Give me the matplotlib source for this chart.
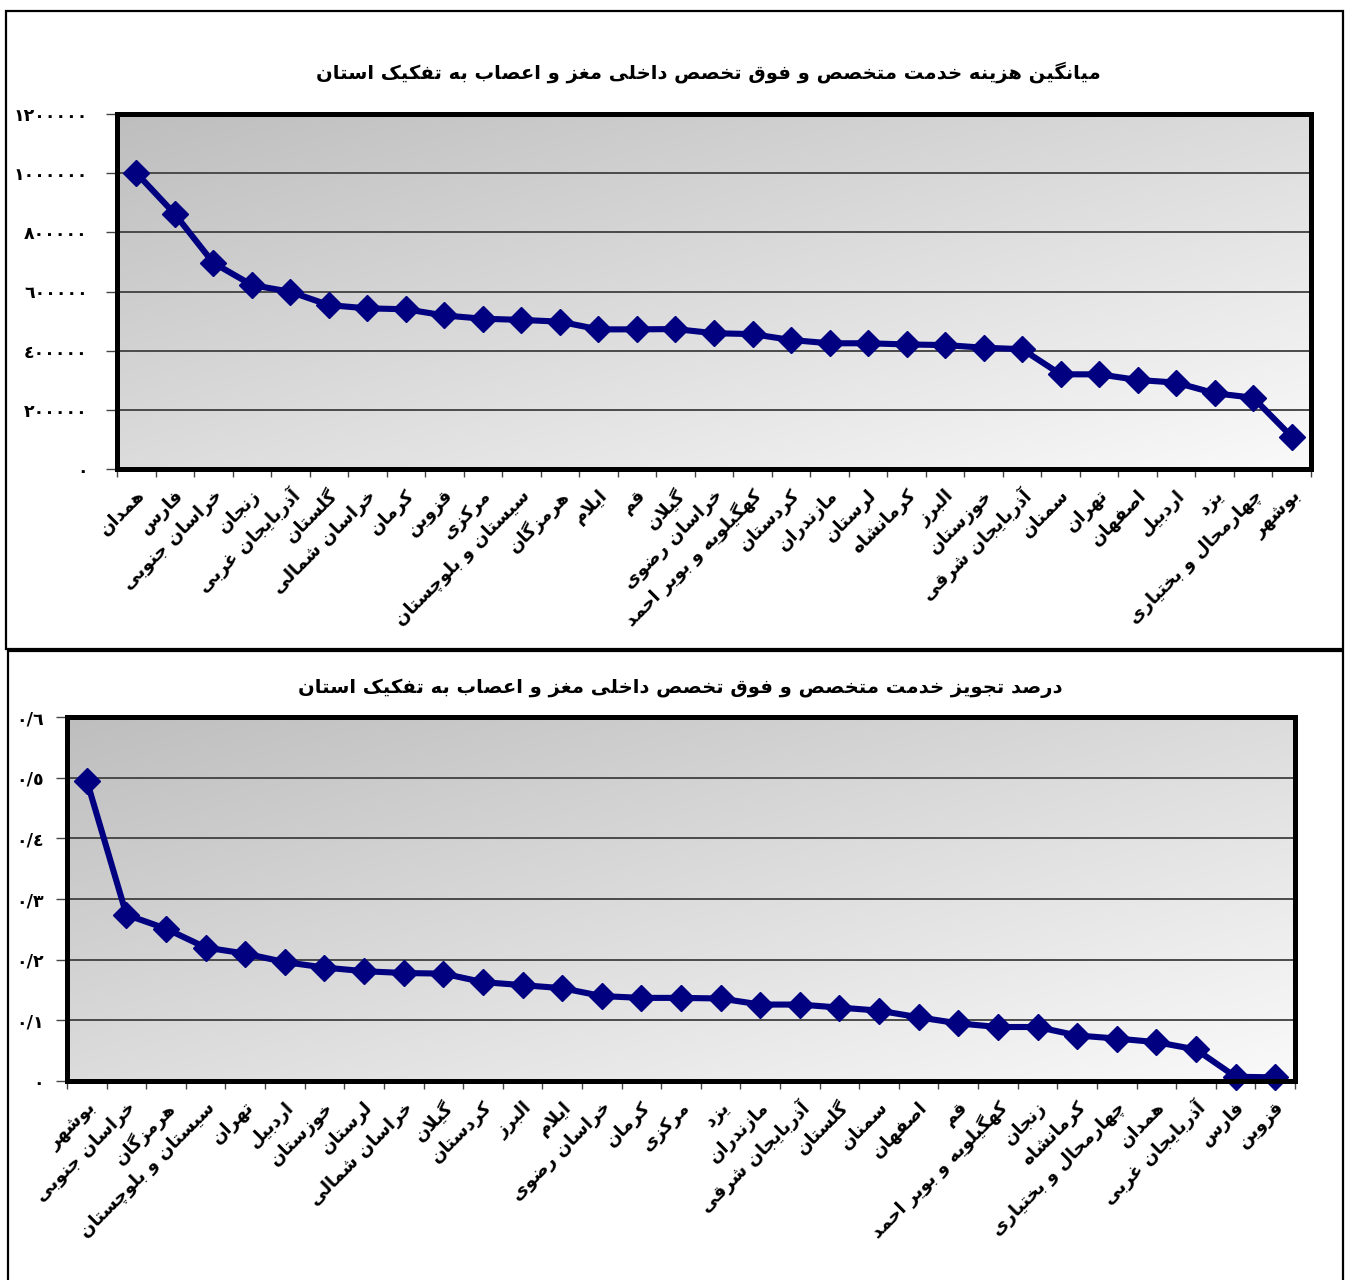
import numpy as np
import matplotlib
matplotlib.use("Agg")
import matplotlib.pyplot as plt
from matplotlib.patches import Rectangle
from matplotlib.ticker import FuncFormatter
import matplotlib.transforms as mtrans

plt.rcParams['font.family'] = ['DejaVu Sans']
plt.rcParams['font.weight'] = 'bold'

# ---------------- data ----------------
title_cost = 'میانگین هزینه خدمت متخصص و فوق تخصص داخلی مغز و اعصاب به تفکیک استان'
provinces_cost = ['همدان', 'فارس', 'خراسان جنوبی', 'زنجان', 'آذربایجان غربی', 'گلستان',
                  'خراسان شمالی', 'کرمان', 'قزوین', 'مرکزی', 'سیستان و بلوچستان', 'هرمزگان',
                  'ایلام', 'قم', 'گیلان', 'خراسان رضوی', 'کهگیلویه و بویر احمد', 'کردستان',
                  'مازندران', 'لرستان', 'کرمانشاه', 'البرز', 'خوزستان', 'آذربایجان شرقی',
                  'سمنان', 'تهران', 'اصفهان', 'اردبیل', 'یزد', 'چهارمحال و بختیاری', 'بوشهر']
cost_values = [1001000, 862000, 697000, 622000, 599000, 554000, 543000, 540000, 519000,
               508000, 504000, 498000, 472000, 472000, 473000, 459000, 456000, 436000,
               425000, 425000, 421000, 419000, 410000, 405000, 320000, 320000, 301000,
               292000, 256000, 241000, 109000]
cost_ticks = [0, 200000, 400000, 600000, 800000, 1000000, 1200000]

title_pct = 'درصد تجویز خدمت متخصص و فوق تخصص داخلی مغز و اعصاب به تفکیک استان'
provinces_pct = ['بوشهر', 'خراسان جنوبی', 'هرمزگان', 'سیستان و بلوچستان', 'تهران', 'اردبیل',
                 'خوزستان', 'لرستان', 'خراسان شمالی', 'گیلان', 'کردستان', 'البرز', 'ایلام',
                 'خراسان رضوی', 'کرمان', 'مرکزی', 'یزد', 'مازندران', 'آذربایجان شرقی',
                 'گلستان', 'سمنان', 'اصفهان', 'قم', 'کهگیلویه و بویر احمد', 'زنجان',
                 'کرمانشاه', 'چهارمحال و بختیاری', 'همدان', 'آذربایجان غربی', 'فارس', 'قزوین']
pct_values = [0.495, 0.274, 0.251, 0.220, 0.210, 0.196, 0.187, 0.181, 0.178, 0.177, 0.163,
              0.158, 0.153, 0.140, 0.137, 0.137, 0.136, 0.126, 0.126, 0.121, 0.116, 0.105,
              0.095, 0.089, 0.089, 0.075, 0.070, 0.064, 0.052, 0.007, 0.006]
pct_ticks = [0, 0.1, 0.2, 0.3, 0.4, 0.5, 0.6]

# ---------------- Persian shaping (matplotlib has no bidi/shaping) ----------------
FORMS = {
    'ا': ('\uFE8D', '\uFE8E', None, None), 'آ': ('\uFE81', '\uFE82', None, None),
    'د': ('\uFEA9', '\uFEAA', None, None), 'ذ': ('\uFEAB', '\uFEAC', None, None),
    'ر': ('\uFEAD', '\uFEAE', None, None), 'ز': ('\uFEAF', '\uFEB0', None, None),
    'ژ': ('\uFB8A', '\uFB8B', None, None), 'و': ('\uFEED', '\uFEEE', None, None),
    'ب': ('\uFE8F', '\uFE90', '\uFE91', '\uFE92'), 'پ': ('\uFB56', '\uFB57', '\uFB58', '\uFB59'),
    'ت': ('\uFE95', '\uFE96', '\uFE97', '\uFE98'), 'ث': ('\uFE99', '\uFE9A', '\uFE9B', '\uFE9C'),
    'ج': ('\uFE9D', '\uFE9E', '\uFE9F', '\uFEA0'), 'چ': ('\uFB7A', '\uFB7B', '\uFB7C', '\uFB7D'),
    'ح': ('\uFEA1', '\uFEA2', '\uFEA3', '\uFEA4'), 'خ': ('\uFEA5', '\uFEA6', '\uFEA7', '\uFEA8'),
    'س': ('\uFEB1', '\uFEB2', '\uFEB3', '\uFEB4'), 'ش': ('\uFEB5', '\uFEB6', '\uFEB7', '\uFEB8'),
    'ص': ('\uFEB9', '\uFEBA', '\uFEBB', '\uFEBC'), 'ض': ('\uFEBD', '\uFEBE', '\uFEBF', '\uFEC0'),
    'ط': ('\uFEC1', '\uFEC2', '\uFEC3', '\uFEC4'), 'ظ': ('\uFEC5', '\uFEC6', '\uFEC7', '\uFEC8'),
    'ع': ('\uFEC9', '\uFECA', '\uFECB', '\uFECC'), 'غ': ('\uFECD', '\uFECE', '\uFECF', '\uFED0'),
    'ف': ('\uFED1', '\uFED2', '\uFED3', '\uFED4'), 'ق': ('\uFED5', '\uFED6', '\uFED7', '\uFED8'),
    'ک': ('\uFB8E', '\uFB8F', '\uFB90', '\uFB91'), 'گ': ('\uFB92', '\uFB93', '\uFB94', '\uFB95'),
    'ل': ('\uFEDD', '\uFEDE', '\uFEDF', '\uFEE0'), 'م': ('\uFEE1', '\uFEE2', '\uFEE3', '\uFEE4'),
    'ن': ('\uFEE5', '\uFEE6', '\uFEE7', '\uFEE8'), 'ه': ('\uFEE9', '\uFEEA', '\uFEEB', '\uFEEC'),
    'ی': ('\uFBFC', '\uFBFD', '\uFBFE', '\uFBFF'),
}
LAMALEF = {'ا': ('\uFEFB', '\uFEFC'), 'آ': ('\uFEF5', '\uFEF6')}


def joins_forward(c):
    return c in FORMS and FORMS[c][2] is not None


def shape(text):
    out = []
    i, n = 0, len(text)
    while i < n:
        c = text[i]
        if c not in FORMS:
            out.append(c)
            i += 1
            continue
        prev = text[i - 1] if i > 0 else ''
        jp = joins_forward(prev)
        if c == 'ل' and i + 1 < n and text[i + 1] in LAMALEF:
            lig = LAMALEF[text[i + 1]]
            out.append(lig[1] if jp else lig[0])
            i += 2
            continue
        nxt = text[i + 1] if i + 1 < n else ''
        jn = joins_forward(c) and nxt in FORMS
        iso, fin, ini, med = FORMS[c]
        if jp and jn:
            g = med
        elif jp:
            g = fin
        elif jn:
            g = ini
        else:
            g = iso
        out.append(g)
        i += 1
    return ''.join(reversed(out))


DIG = str.maketrans('0123456789', '٠١٢٣٤٥٦٧٨٩')


def fmt_int(v, pos=None):
    return str(int(round(v))).translate(DIG)


def fmt_dec(v, pos=None):
    if abs(v) < 1e-9:
        return '0'.translate(DIG)
    return ('%.1f' % v).replace('.', '/').translate(DIG)


# ---------------- figure ----------------
W, H = 1345, 1280
fig = plt.figure(figsize=(W / 100, H / 100), dpi=100)


def fx(px):
    return px / W


def fy(py):
    return 1 - py / H


# outer panel frames
fig.add_artist(Rectangle((fx(6), fy(649)), fx(1343) - fx(6), fy(11) - fy(649),
                         transform=fig.transFigure, fill=False, lw=1.6, ec='black'))
fig.add_artist(Rectangle((fx(8), fy(1290)), fx(1343) - fx(8), fy(651) - fy(1290),
                         transform=fig.transFigure, fill=False, lw=1.6, ec='black',
                         clip_on=False))

# diagonal gradient (dark top-left -> light bottom-right)
gx = np.linspace(0, 1, 300)
gy = np.linspace(1, 0, 300)
GX, GY = np.meshgrid(gx, gy)
t = (GX + (1 - GY)) / 2
g = 0.745 + 0.235 * t
grad = np.dstack([g, g, g])


def draw_panel(px_box, cats, vals, ticks, fmt, title, title_xy, ypad):
    l, r, tp, b = px_box
    ax = fig.add_axes([fx(l), fy(b), fx(r) - fx(l), fy(tp) - fy(b)])
    n = len(cats)
    x = np.arange(n)
    ymax = ticks[-1]
    ax.imshow(grad, extent=(-0.5, n - 0.5, 0, ymax), aspect='auto', zorder=0,
              interpolation='bilinear')
    ax.set_xlim(-0.5, n - 0.5)
    ax.set_ylim(0, ymax)
    for v in ticks[1:-1]:
        ax.axhline(v, color='#4a4a4a', lw=1.4, zorder=1)
    ax.plot(x, vals, color='#000080', lw=4.4, marker='D', ms=13.5, zorder=3,
            clip_on=False, solid_joinstyle='round')
    for s in ax.spines.values():
        s.set_linewidth(3.6)
        s.set_color('black')
        s.set_zorder(4)
    ax.set_yticks(ticks)
    ax.yaxis.set_major_formatter(FuncFormatter(fmt))
    ax.tick_params(axis='y', length=8, width=1.0, color='#444444', pad=ypad,
                   labelsize=12.5)
    ax.set_xticks(x)
    ax.set_xticklabels([shape(c) for c in cats], fontsize=13)
    ax.set_xticks(np.arange(-0.5, n, 1.0), minor=True)
    ax.tick_params(axis='x', which='major', length=0, pad=17)
    ax.tick_params(axis='x', which='minor', length=6, width=1.0, color='#444444',
                   direction='out')
    off = mtrans.ScaledTranslation(0.06, 0, fig.dpi_scale_trans)
    for lab in ax.get_xticklabels():
        lab.set_rotation(45)
        lab.set_ha('right')
        lab.set_va('center')
        lab.set_rotation_mode('anchor')
        lab.set_transform(lab.get_transform() + off)
    fig.text(fx(title_xy[0]), fy(title_xy[1]), shape(title), ha='center', va='center',
             fontsize=14, fontweight='bold')
    return ax


draw_panel((117, 1311, 114, 469), provinces_cost, cost_values, cost_ticks, fmt_int,
           title_cost, (708, 72), 13)
draw_panel((67, 1295, 717, 1081), provinces_pct, pct_values, pct_ticks, fmt_dec,
           title_pct, (680, 688), 9)

fig.savefig('out.png', dpi=100)
